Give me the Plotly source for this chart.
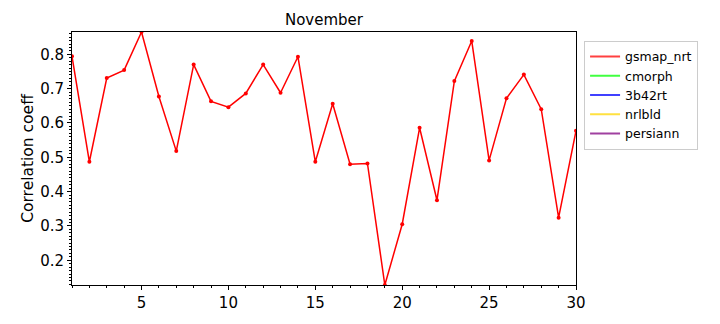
import plotly.graph_objects as go

days = list(range(1, 31))
gsmap_nrt = [0.794, 0.487, 0.731, 0.754, 0.865, 0.677, 0.518, 0.770, 0.663, 0.646,
             0.686, 0.770, 0.688, 0.793, 0.487, 0.656, 0.480, 0.482, 0.128, 0.305,
             0.586, 0.375, 0.722, 0.839, 0.491, 0.672, 0.741, 0.640, 0.324, 0.577]
series_names = ["gsmap_nrt", "cmorph", "3b42rt", "nrlbld", "persiann"]
legend_colors = ["rgba(255,0,0,0.75)", "rgba(0,255,0,0.75)", "rgba(0,0,255,0.75)",
                 "rgba(255,215,0,0.75)", "rgba(128,0,128,0.75)"]
title = "November"
ytitle = "Correlation coeff"

font = "DejaVu Sans"
fig = go.Figure()
fig.add_trace(go.Scatter(x=days, y=gsmap_nrt, mode="lines+markers",
                         line=dict(color="#ff0000", width=1.5),
                         marker=dict(color="#ff0000", size=4),
                         showlegend=False))
for name, col in zip(series_names, legend_colors):
    fig.add_trace(go.Scatter(x=[None], y=[None], mode="lines", name=name,
                             line=dict(color=col, width=2)))

ymin, ymax = min(gsmap_nrt), max(gsmap_nrt)
fig.update_layout(
    width=720, height=324,
    margin=dict(l=72, r=144, t=32, b=32),
    paper_bgcolor="white", plot_bgcolor="white",
    font=dict(family=font, color="black"),
    title=dict(text=title, x=(72 + 252) / 720, xanchor="center", y=1 - 20 / 324,
               yanchor="middle", font=dict(size=15, family=font)),
    legend=dict(x=1.016, y=0.965, xanchor="left", yanchor="top",
                bordercolor="#cccccc", borderwidth=1, font=dict(size=12.5, family=font),
                tracegroupgap=0, itemwidth=30),
    xaxis=dict(range=[1, 30], tickvals=[5, 10, 15, 20, 25, 30], showgrid=False,
               zeroline=False, showline=True, linecolor="black", linewidth=1, mirror=True,
               ticks="outside", ticklen=4, tickcolor="black", tickfont=dict(size=15),
               minor=dict(dtick=1, tick0=0, ticks="outside", ticklen=2, tickcolor="black")),
    yaxis=dict(range=[ymin, ymax], tickvals=[0.2, 0.3, 0.4, 0.5, 0.6, 0.7, 0.8],
               tickformat=".1f", showgrid=False, zeroline=False, showline=True,
               linecolor="black", linewidth=1, mirror=True, ticks="outside", ticklen=4,
               tickcolor="black", tickfont=dict(size=15),
               title=dict(text=ytitle, font=dict(size=15.5), standoff=2),
               minor=dict(dtick=0.01, tick0=0, ticks="outside", ticklen=2, tickcolor="black")),
)
fig.write_html("out.html")
